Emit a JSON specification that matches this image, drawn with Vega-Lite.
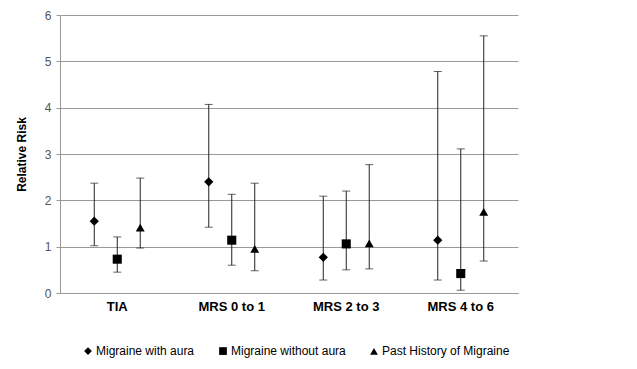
{
  "$schema": "https://vega.github.io/schema/vega-lite/v6.json",
  "width": 458,
  "height": 278,
  "autosize": {"type": "none"},
  "padding": {"left": 60, "top": 15, "right": 119, "bottom": 76},
  "background": "white",
  "config": {
    "font": "Liberation Sans",
    "view": {"stroke": null}
  },
  "data": {
    "values": [
      {"cat": "TIA", "series": "Migraine with aura", "rr": 1.55, "lo": 1.02, "hi": 2.37},
      {"cat": "TIA", "series": "Migraine without aura", "rr": 0.73, "lo": 0.45, "hi": 1.21},
      {"cat": "TIA", "series": "Past History of Migraine", "rr": 1.41, "lo": 0.97, "hi": 2.48},
      {"cat": "MRS 0 to 1", "series": "Migraine with aura", "rr": 2.4, "lo": 1.42, "hi": 4.07},
      {"cat": "MRS 0 to 1", "series": "Migraine without aura", "rr": 1.14, "lo": 0.6, "hi": 2.13},
      {"cat": "MRS 0 to 1", "series": "Past History of Migraine", "rr": 0.95, "lo": 0.48, "hi": 2.37},
      {"cat": "MRS 2 to 3", "series": "Migraine with aura", "rr": 0.77, "lo": 0.28, "hi": 2.09},
      {"cat": "MRS 2 to 3", "series": "Migraine without aura", "rr": 1.06, "lo": 0.5, "hi": 2.2},
      {"cat": "MRS 2 to 3", "series": "Past History of Migraine", "rr": 1.07, "lo": 0.52, "hi": 2.77},
      {"cat": "MRS 4 to 6", "series": "Migraine with aura", "rr": 1.14, "lo": 0.28, "hi": 4.78},
      {"cat": "MRS 4 to 6", "series": "Migraine without aura", "rr": 0.42, "lo": 0.06, "hi": 3.11},
      {"cat": "MRS 4 to 6", "series": "Past History of Migraine", "rr": 1.75, "lo": 0.69, "hi": 5.55}
    ]
  },
  "encoding": {
    "x": {
      "field": "cat",
      "type": "nominal",
      "sort": ["TIA", "MRS 0 to 1", "MRS 2 to 3", "MRS 4 to 6"],
      "scale": {"paddingInner": 0, "paddingOuter": 0},
      "axis": {
        "title": null,
        "labelAngle": 0,
        "labelFont": "Liberation Sans",
        "labelFontSize": 13,
        "labelFontWeight": "bold",
        "labelColor": "#000",
        "labelPadding": 7,
        "ticks": false,
        "domainColor": "#999",
        "grid": false
      }
    },
    "xOffset": {
      "field": "series",
      "type": "nominal",
      "sort": ["Migraine with aura", "Migraine without aura", "Past History of Migraine"],
      "scale": {"paddingInner": 0, "paddingOuter": 0.99}
    }
  },
  "layer": [
    {
      "mark": {"type": "rule", "color": "#222", "strokeWidth": 1},
      "encoding": {
        "y": {
          "field": "lo",
          "type": "quantitative",
          "scale": {"domain": [0, 6], "nice": false},
          "axis": {
            "title": "Relative Risk",
            "titleFont": "Liberation Sans",
            "titleFontSize": 12,
            "titleFontWeight": "bold",
            "titleColor": "#000",
            "titlePadding": 16,
            "values": [0, 1, 2, 3, 4, 5, 6],
            "labelFont": "Liberation Sans",
            "labelFontSize": 12,
            "labelColor": "#555",
            "labelPadding": 5,
            "tickColor": "#999",
            "tickSize": 4,
            "domainColor": "#999",
            "gridColor": "#999",
            "gridWidth": 1,
            "gridOpacity": 1
          }
        },
        "y2": {"field": "hi"}
      }
    },
    {
      "mark": {"type": "tick", "color": "#222", "orient": "horizontal", "size": 8, "thickness": 1},
      "encoding": {"y": {"field": "lo", "type": "quantitative"}}
    },
    {
      "mark": {"type": "tick", "color": "#222", "orient": "horizontal", "size": 8, "thickness": 1},
      "encoding": {"y": {"field": "hi", "type": "quantitative"}}
    },
    {
      "mark": {"type": "point", "filled": true, "opacity": 1, "color": "#000"},
      "encoding": {
        "y": {"field": "rr", "type": "quantitative"},
        "shape": {
          "field": "series",
          "type": "nominal",
          "sort": ["Migraine with aura", "Migraine without aura", "Past History of Migraine"],
          "scale": {"range": ["diamond", "square", "triangle-up"]},
          "legend": {
            "title": null,
            "orient": "none",
            "direction": "horizontal",
            "legendX": 22,
            "legendY": 330,
            "labelFont": "Liberation Sans",
            "labelFontSize": 12,
            "labelColor": "#000",
            "symbolFillColor": "#000",
            "symbolStrokeColor": "#000",
            "symbolSize": 60,
            "labelOffset": 2,
            "columnPadding": 21
          }
        },
        "size": {
          "field": "series",
          "type": "nominal",
          "sort": ["Migraine with aura", "Migraine without aura", "Past History of Migraine"],
          "scale": {"range": [85, 80, 115]},
          "legend": null
        }
      }
    }
  ]
}
